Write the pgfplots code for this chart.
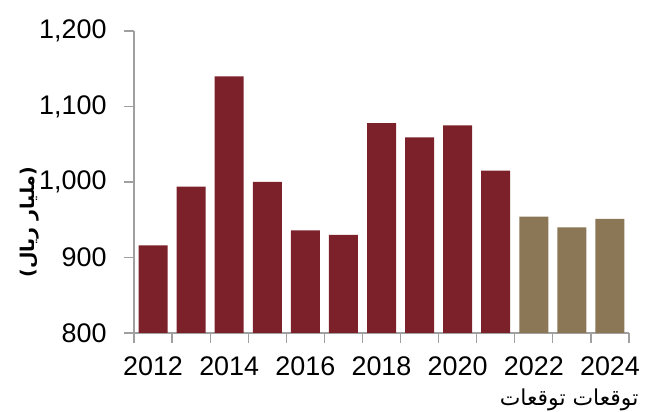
\documentclass[border=0pt]{standalone}
\usepackage{fontspec}
\setmainfont{Liberation Sans}
\newfontfamily\arabicfont[Script=Arabic]{DejaVu Sans}
\TeXXeTstate=1
\usepackage{pgfplots}
\pgfplotsset{compat=1.18}
\definecolor{barred}{RGB}{124,33,41}
\definecolor{bartan}{RGB}{139,118,86}
\definecolor{axgray}{RGB}{160,160,160}
\begin{document}
\begin{tikzpicture}
\begin{axis}[
  scale only axis, width=495bp, height=302bp,
  xmin=-0.5, xmax=12.5, ymin=800, ymax=1200,
  clip=false,
  axis x line*=bottom, axis y line*=left,
  axis line style={axgray, line width=1.2pt},
  ytick={800,900,1000,1100,1200},
  xtick={0,2,4,6,8,10,12},
  xticklabels={2012,2014,2016,2018,2020,2022,2024},
  minor xtick={-0.5,0.5,...,12.5},
  major x tick style={draw=none},
  tick style={axgray, line width=1.2pt},
  tick align=outside,
  major tick length=10bp, minor tick length=10bp,
  tick label style={font=\fontsize{27}{30}\selectfont},
  x tick label style={yshift=-10bp},
  y tick label style={xshift=-14bp, /pgf/number format/.cd, 1000 sep={,}, assume math mode=true},
  ylabel={\arabicfont\bfseries\fontsize{19}{24}\selectfont\beginR(مليار ريال)\endR},
  every axis y label/.style={at={(axis description cs:-0.21,0.367)}, rotate=90, anchor=center},
  ybar, bar width=29bp,
]
\addplot[fill=barred, draw=none, bar shift=0pt] coordinates {
 (0,916) (1,994) (2,1140) (3,1000) (4,936) (5,930) (6,1078) (7,1059) (8,1075) (9,1015)};
\addplot[fill=bartan, draw=none, bar shift=0pt] coordinates {
 (10,954) (11,940) (12,951)};
\node[font=\arabicfont\fontsize{22}{26}\selectfont, anchor=center] at (rel axis cs:0.879,-0.222) {\beginR توقعات توقعات\endR};
\coordinate (ll) at (rel axis cs:-0.2707,-0.2616);
\coordinate (ur) at (rel axis cs:1.0606,1.1026);
\end{axis}
\pgfresetboundingbox
\path[use as bounding box] (ll) rectangle (ur);
\end{tikzpicture}
\end{document}
